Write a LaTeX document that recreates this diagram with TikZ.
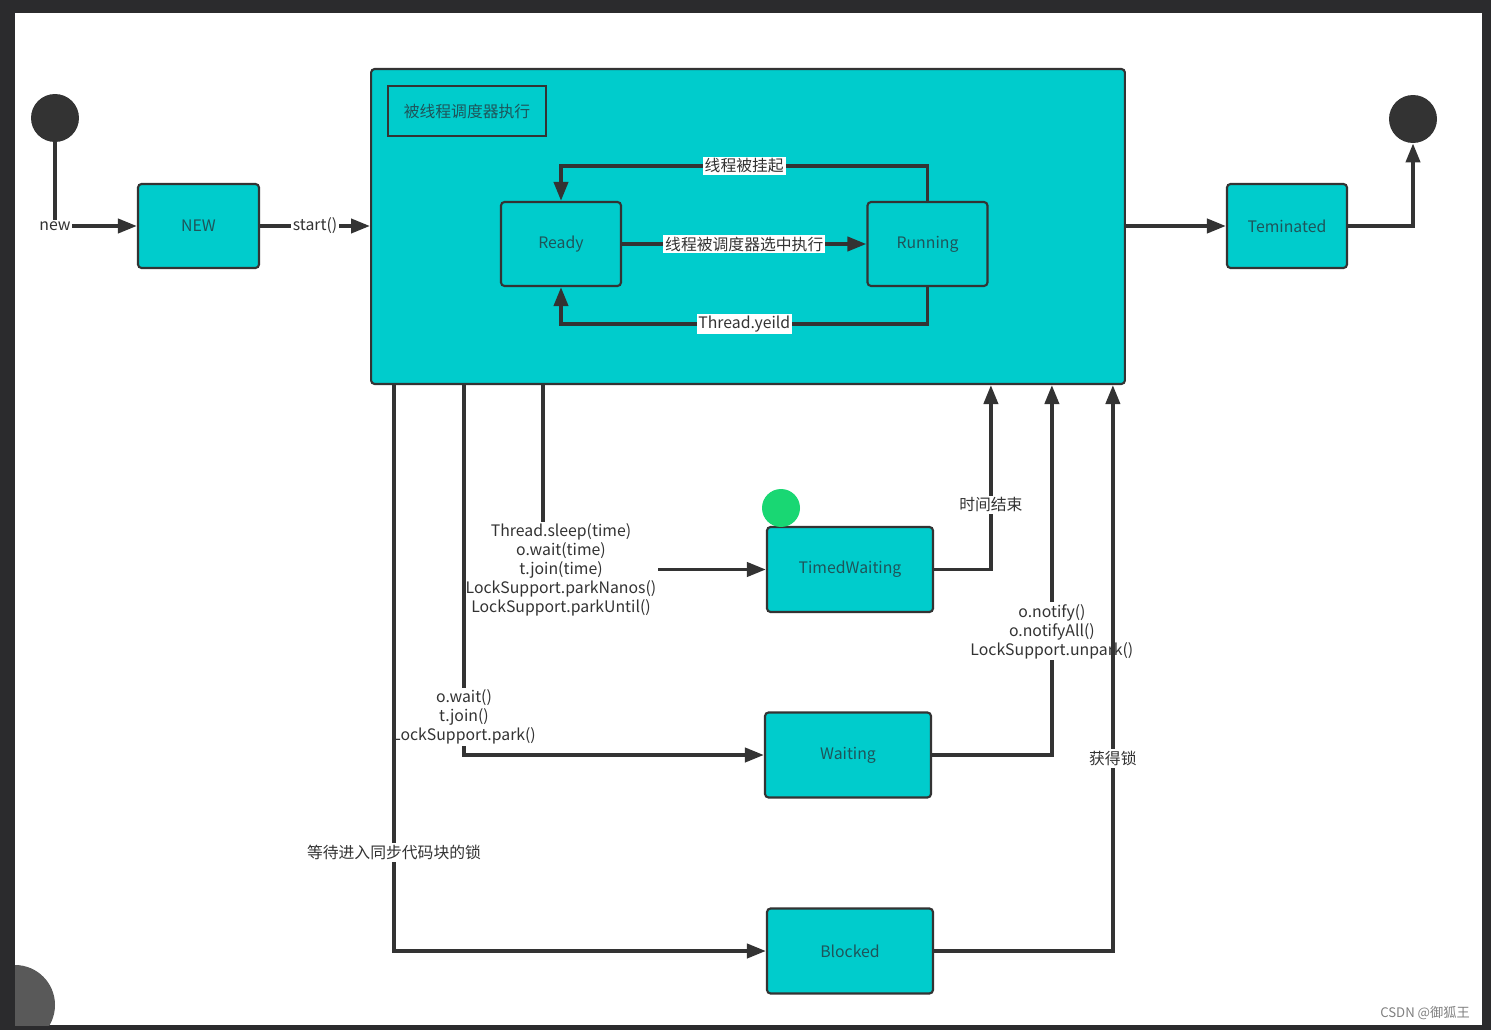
\documentclass[tikz,border=0pt]{standalone}
\usepackage{fontspec}
\setmainfont{Noto Sans CJK SC}
\usetikzlibrary{arrows.meta}
\definecolor{tealfill}{RGB}{0,204,204}
\definecolor{inkgray}{RGB}{51,51,51}
\definecolor{boxtext}{RGB}{30,85,90}
\definecolor{framegray}{RGB}{43,43,45}
\definecolor{cursorgreen}{RGB}{25,215,115}
\begin{document}
\begin{tikzpicture}[x=0.02cm,y=-0.02cm,
 state/.style={draw=inkgray,line width=1.2pt,fill=tealfill,rounded corners=2pt,text=boxtext,minimum width=2.42cm,minimum height=1.68cm,font=\fontsize{9}{11}\selectfont},
 wide/.style={state,minimum width=3.32cm,minimum height=1.7cm},
 dot/.style={circle,fill=inkgray,minimum size=0.96cm,inner sep=0pt},
 arr/.style={draw=inkgray,line width=2.2pt,-{Triangle[length=0.38cm,width=0.28cm]}},
 lbl/.style={fill=white,inner sep=1pt,text=inkgray,align=center,font=\fontsize{9}{10.8}\selectfont}]
\useasboundingbox (0,0) rectangle (1491,1030);
\fill[framegray] (0,0) rectangle (1491,1030);
\fill[white] (15,13) rectangle (1482,1025);
\begin{scope}
\clip (15,13) rectangle (1482,1025);
\fill[gray!70!black] (15,1005) circle (40);
\end{scope}
\node[font=\fontsize{7.5}{9}\selectfont,text=gray] (mark) at (1425,1013) {CSDN @御狐王};

\node[dot] (s0) at (55,118) {};
\node[dot] (e0) at (1413,119) {};
\node[state] (new) at (198.5,226) {NEW};
\node[state,minimum width=15.08cm,minimum height=6.3cm] (big) at (748,226.5) {};
\node[draw=inkgray,line width=1.2pt,minimum width=3.16cm,minimum height=1.0cm,text=boxtext,font=\fontsize{9}{11}\selectfont] (title) at (467,111) {被线程调度器执行};
\node[state,minimum width=2.4cm] (ready) at (561,244) {Ready};
\node[state,minimum width=2.4cm] (run) at (927.5,244) {Running};
\node[state,minimum width=2.4cm] (term) at (1287,226) {Teminated};
\node[wide] (tw) at (850,569.5) {TimedWaiting};
\node[wide] (wait) at (848,755) {Waiting};
\node[wide] (blk) at (850,951) {Blocked};
\fill[cursorgreen] (781,508) circle (19);

\draw[arr] (s0) |- node[lbl] {new} (new);
\draw[arr] (new.east) -- node[lbl] {start()} (new.east -| big.west);
\draw[arr] (run.north) -- ++(0,-35) -| node[lbl,pos=0.25] {线程被挂起} (ready.north);
\draw[arr] (ready) -- node[lbl] {线程被调度器选中执行} (run);
\draw[arr] (run.south) -- ++(0,37) -| node[lbl,pos=0.25] {Thread.yeild} (ready.south);
\draw[arr] (big.east |- term.west) -- (term.west);
\draw[arr] (term.east) -| (e0);

\draw[arr] ([xshift=3.46cm]big.south west) |- node[lbl,pos=0.5,xshift=0.36cm] {Thread.sleep(time)\\o.wait(time)\\t.join(time)\\LockSupport.parkNanos()\\LockSupport.parkUntil()} (tw);
\draw[arr] ([xshift=1.88cm]big.south west) |- node[lbl,pos=0.449] {o.wait()\\t.join()\\LockSupport.park()} (wait);
\draw[arr] ([xshift=0.48cm]big.south west) |- node[lbl,pos=0.413] {等待进入同步代码块的锁} (blk);
\draw[arr] (tw.east) -| node[lbl,pos=0.675] {时间结束} ([xshift=12.42cm]big.south west);
\draw[arr] (wait.east) -| node[lbl,pos=0.667] {o.notify()\\o.notifyAll()\\LockSupport.unpark()} ([xshift=13.64cm]big.south west);
\draw[arr] (blk.east) -| node[lbl,pos=0.67] {获得锁} ([xshift=14.86cm]big.south west);
\end{tikzpicture}
\end{document}
